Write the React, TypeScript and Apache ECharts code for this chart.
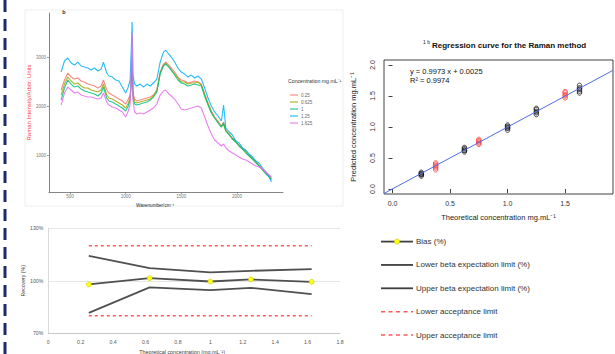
import React, { useEffect, useRef } from "react";
import * as echarts from "echarts";

// ---------- Raman spectra (panel b) ----------
const wavenumbers = [420,450,480,510,540,570,600,630,660,690,720,750,780,800,830,850,880,910,940,970,1000,1020,1040,1050,1058,1066,1080,1100,1130,1160,1190,1220,1250,1280,1310,1340,1360,1380,1410,1440,1470,1500,1530,1560,1590,1620,1650,1680,1710,1740,1770,1800,1830,1860,1880,1900,1930,1960,1990,2020,2050,2080,2110,2140,2170,2200,2230,2260,2290,2310];
const specNames = ["0.25", "0.625", "1", "1.25", "1.625"];
const spec025 = [2326,2530,2673,2591,2550,2571,2510,2489,2448,2428,2408,2367,2408,2530,2326,2265,2224,2183,2142,2102,2040,2122,2224,2489,2938,2285,2142,2102,2122,2142,2163,2183,2224,2326,2693,2856,2897,2856,2775,2693,2591,2530,2510,2469,2489,2510,2489,2448,2244,2061,1898,1775,1694,1592,1673,1510,1428,1347,1286,1204,1143,1082,1000,939,878,796,714,653,572,531];
const spec0625 = [2224,2448,2591,2510,2448,2469,2408,2367,2367,2326,2306,2285,2326,2448,2224,2163,2142,2102,2061,2020,1959,2040,2163,2428,2979,2224,2081,2061,2081,2102,2122,2142,2204,2306,2673,2836,2877,2816,2734,2652,2571,2489,2489,2448,2469,2469,2489,2428,2224,2040,1877,1755,1673,1571,1632,1490,1428,1326,1265,1184,1122,1061,980,918,857,776,694,633,551,510];
const spec1 = [2122,2367,2530,2448,2387,2408,2346,2306,2285,2265,2244,2204,2265,2387,2163,2102,2081,2040,2000,1959,1898,1979,2122,2530,3040,2163,2040,2020,2040,2061,2081,2122,2183,2285,2652,2816,2856,2816,2734,2632,2530,2469,2448,2408,2428,2448,2428,2408,2204,2020,1857,1755,1653,1571,1653,1490,1408,1326,1265,1184,1122,1041,980,918,837,776,694,612,551,490];
const spec125 = [2693,2918,2979,2877,2836,2897,2816,2795,2775,2734,2775,2714,2754,2897,2673,2612,2591,2530,2510,2387,2265,2367,2530,3142,3713,2632,2448,2408,2448,2387,2448,2408,2469,2550,2897,3101,3142,3081,2999,2897,2775,2693,2652,2591,2632,2571,2612,2550,2367,2163,2000,1877,1796,1694,2020,1551,1469,1408,1286,1245,1143,1102,1020,959,878,837,735,653,551,449];
const spec1625 = [2020,2265,2387,2326,2265,2285,2224,2204,2183,2183,2163,2142,2163,2265,2081,2020,1979,1959,1918,1877,1775,1877,2020,2734,3489,2122,1877,1836,1857,1836,1877,1918,1959,2040,2224,2306,2326,2265,2204,2142,2040,1938,1918,1938,1959,1979,2000,1959,1775,1592,1428,1306,1245,1184,1224,1143,1082,1041,1000,959,918,898,857,816,776,755,714,653,592,551];
const specTicksX = [500, 1000, 1500, 2000];
const specTicksY = [1000, 2000, 3000];

// ---------- Regression (1b) ----------
const calibLevels = [0.25, 0.625, 1.0, 1.25, 1.625];
const calibPred = [
  [0.21, 0.23, 0.24, 0.25, 0.27],
  [0.60, 0.62, 0.63, 0.65, 0.67],
  [0.95, 0.98, 0.99, 1.01, 1.03],
  [1.20, 1.23, 1.25, 1.28, 1.30],
  [1.55, 1.58, 1.61, 1.63, 1.67],
];
const validLevels = [0.375, 0.75, 1.5];
const validPred = [
  [0.31, 0.34, 0.36, 0.38, 0.40, 0.42],
  [0.72, 0.74, 0.76, 0.78, 0.80],
  [1.47, 1.50, 1.52, 1.55, 1.57],
];
const regSlope = 0.9973;
const regIntercept = 0.0025;
const regR2 = 0.9974;
const regTicks = [0, 0.5, 1, 1.5, 2];

// ---------- Accuracy profile ----------
const profileX = [0.25, 0.625, 1.0, 1.25, 1.625];
const biasPct = [97.9, 101.5, 99.6, 100.8, 99.4];
const lowerBetaPct = [81.7, 96.2, 94.7, 96.0, 92.4];
const upperBetaPct = [114.3, 107.3, 104.8, 105.7, 106.7];
const lowerAccPct = [80, 80, 80, 80, 80];
const upperAccPct = [120, 120, 120, 120, 120];
const profileNames = [
  "Bias (%)",
  "Lower beta expectation limit (%)",
  "Upper beta expectation limit (%)",
  "Lower acceptance limit",
  "Upper acceptance limit",
];

const RF = "Liberation Sans, Arial, sans-serif";
const specColors = ["#F8766D", "#A3A500", "#00BF7D", "#00B0F6", "#E76BF3"];

function buildOption() {
  const specData = [spec025, spec0625, spec1, spec125, spec1625];
  const series: any[] = [];

  specData.forEach((arr, i) => {
    series.push({
      name: specNames[i],
      type: "line",
      xAxisIndex: 0,
      yAxisIndex: 0,
      symbol: "none",
      data: wavenumbers.map((w, j) => [w, arr[j]]),
      lineStyle: { color: specColors[i], width: 1.1, opacity: 0.85 },
      itemStyle: { color: specColors[i] },
    });
  });

  const xMin = -0.074, xMax = 1.916;
  series.push({
    name: "fit",
    type: "line",
    xAxisIndex: 1,
    yAxisIndex: 1,
    symbol: "none",
    clip: true,
    data: [xMin, xMax].map((x) => [x, regSlope * x + regIntercept]),
    lineStyle: { color: "#4f6be6", width: 1 },
  });
  const calibPts: number[][] = [];
  calibLevels.forEach((x, i) => calibPred[i].forEach((y) => calibPts.push([x, y])));
  const validPts: number[][] = [];
  validLevels.forEach((x, i) => validPred[i].forEach((y) => validPts.push([x, y])));
  series.push({
    name: "calibration",
    type: "scatter",
    xAxisIndex: 1,
    yAxisIndex: 1,
    symbol: "circle",
    symbolSize: 4.5,
    data: calibPts,
    itemStyle: { color: "transparent", borderColor: "#111", borderWidth: 1 },
  });
  series.push({
    name: "validation",
    type: "scatter",
    xAxisIndex: 1,
    yAxisIndex: 1,
    symbol: "circle",
    symbolSize: 4.5,
    data: validPts,
    itemStyle: { color: "transparent", borderColor: "#ff3b3b", borderWidth: 1 },
  });

  const prof = [biasPct, lowerBetaPct, upperBetaPct, lowerAccPct, upperAccPct];
  prof.forEach((arr, i) => {
    const dashed = i >= 3;
    series.push({
      name: profileNames[i],
      type: "line",
      xAxisIndex: 2,
      yAxisIndex: 2,
      symbol: i === 0 ? "circle" : "none",
      symbolSize: 5,
      z: i === 0 ? 5 : 3,
      data: profileX.map((x, j) => [x, arr[j]]),
      lineStyle: dashed
        ? { color: "#ff5a5a", width: 1.5, type: [3, 3] }
        : { color: "#505050", width: 1.8 },
      itemStyle: i === 0 ? { color: "#ffff1a", borderColor: "#c9c900", borderWidth: 0.6 } : undefined,
    });
  });

  // graphics
  const graphic: any[] = [];
  graphic.push({
    type: "line",
    shape: { x1: 5, y1: 0, x2: 5, y2: 354 },
    style: { stroke: "#1c2b6b", lineWidth: 3, lineDash: [12, 7] },
  });
  graphic.push({
    type: "rect",
    shape: { x: 25, y: 10, width: 318, height: 196 },
    style: { fill: "none", stroke: "#efefef", lineWidth: 1 },
    z: -1,
  });
  graphic.push({
    type: "text",
    x: 64,
    y: 12,
    style: { text: "b", fontSize: 5.5, fontWeight: "bold", fontFamily: RF, fill: "#333", textAlign: "center", textVerticalAlign: "middle" },
  });
  graphic.push({
    type: "text",
    x: 288,
    y: 81,
    style: { text: "Concentration mg.mL⁻¹", fontSize: 5.2, fontFamily: RF, fill: "#333", textAlign: "left", textVerticalAlign: "middle" },
  });
  specNames.forEach((n, i) => {
    const y = 95 + i * 7;
    graphic.push({
      type: "line",
      shape: { x1: 290, y1: y, x2: 298, y2: y },
      style: { stroke: specColors[i], lineWidth: 1 },
    });
    graphic.push({
      type: "text",
      x: 301,
      y,
      style: { text: n, fontSize: 4.5, fontFamily: RF, fill: "#666", textAlign: "left", textVerticalAlign: "middle" },
    });
  });

  graphic.push({
    type: "text",
    x: 423,
    y: 42,
    style: { text: "1 b", fontSize: 5, fontFamily: RF, fill: "#222", textAlign: "left", textVerticalAlign: "middle" },
  });
  graphic.push({
    type: "text",
    x: 432,
    y: 45,
    style: { text: "Regression curve for the Raman method", fontSize: 8, fontWeight: "bold", fontFamily: RF, fill: "#111", textAlign: "left", textVerticalAlign: "middle" },
  });
  graphic.push({
    type: "text",
    x: 410,
    y: 71,
    style: { text: `y = ${regSlope.toFixed(4)} x + ${regIntercept.toFixed(4)}`, fontSize: 7.5, fontFamily: RF, fill: "#111", textAlign: "left", textVerticalAlign: "middle" },
  });
  graphic.push({
    type: "text",
    x: 410,
    y: 80.5,
    style: { text: `R² = ${regR2.toFixed(4)}`, fontSize: 7.5, fontFamily: RF, fill: "#111", textAlign: "left", textVerticalAlign: "middle" },
  });

  profileNames.forEach((n, i) => {
    const y = 241.6 + i * 23.35;
    const dashed = i >= 3;
    graphic.push({
      type: "line",
      shape: { x1: 381, y1: y, x2: 413, y2: y },
      style: dashed
        ? { stroke: "#ff5a5a", lineWidth: 1.5, lineDash: [4, 3.5] }
        : { stroke: "#404040", lineWidth: 1.8 },
    });
    if (i === 0) {
      graphic.push({
        type: "circle",
        shape: { cx: 397, cy: y, r: 2.6 },
        style: { fill: "#ffff1a", stroke: "#c9c900", lineWidth: 0.6 },
      });
    }
    graphic.push({
      type: "text",
      x: 416,
      y,
      style: { text: n, fontSize: 8, fontFamily: RF, fill: "#333333", textAlign: "left", textVerticalAlign: "middle" },
    });
  });

  const plain = (v: number) => String(v);

  return {
    animation: false,
    backgroundColor: "#ffffff",
    grid: [
      { left: 49, top: 13, width: 234, height: 179, outerBoundsMode: "none" },
      { left: 384, top: 60, width: 229, height: 134, show: true, borderColor: "#111", borderWidth: 0.8, outerBoundsMode: "none" },
      { left: 48.3, top: 228.3, width: 291.7, height: 105, outerBoundsMode: "none" },
    ],
    xAxis: [
      {
        gridIndex: 0, type: "value", min: 311, max: 2414,
        axisLine: { lineStyle: { color: "#666", width: 0.8 } },
        axisTick: { show: true, customValues: specTicksX, length: 2, lineStyle: { color: "#666", width: 0.6 } },
        axisLabel: { customValues: specTicksX, fontSize: 4.5, color: "#777", margin: 1.5, fontFamily: RF, formatter: plain },
        splitLine: { show: false },
        name: "Wavenumber/cm⁻¹", nameLocation: "middle", nameGap: 9.5,
        nameTextStyle: { fontSize: 4.6, color: "#222", fontFamily: RF, padding: [0, 22, 0, 0] },
      },
      {
        gridIndex: 1, type: "value", min: xMin, max: xMax,
        axisLine: { show: false },
        axisTick: { show: true, customValues: [0, 0.5, 1, 1.5], length: 4, lineStyle: { color: "#111", width: 0.8 } },
        axisLabel: { customValues: [0, 0.5, 1, 1.5], fontSize: 7, color: "#333", margin: 6, fontFamily: RF, formatter: (v: number) => v.toFixed(1) },
        splitLine: { show: false },
        name: "Theoretical concentration mg.mL⁻¹", nameLocation: "middle", nameGap: 19,
        nameTextStyle: { fontSize: 7.5, color: "#222", fontFamily: RF },
      },
      {
        gridIndex: 2, type: "value", min: 0, max: 1.8, interval: 0.2,
        axisLine: { lineStyle: { color: "#c8c8c8", width: 1 } },
        axisTick: { show: false },
        axisLabel: { fontSize: 5.2, color: "#595959", margin: 6, fontFamily: RF, formatter: (v: number) => String(Math.round(v * 10) / 10) },
        splitLine: { show: false },
        name: "Theoretical concentration (mg.mL⁻¹)", nameLocation: "middle", nameGap: 16.5,
        nameTextStyle: { fontSize: 5.4, color: "#404040", fontFamily: RF, padding: [0, 24, 0, 0] },
      },
    ],
    yAxis: [
      {
        gridIndex: 0, type: "value", min: 245, max: 3898,
        axisLine: { show: true, lineStyle: { color: "#666", width: 0.8 } },
        axisTick: { show: true, customValues: specTicksY, length: 2, lineStyle: { color: "#666", width: 0.6 } },
        axisLabel: { customValues: specTicksY, fontSize: 4.5, color: "#777", margin: 3, fontFamily: RF, formatter: plain },
        splitLine: { show: false },
        name: "Raman Intensity/Arbitr. Units", nameLocation: "middle", nameGap: 14.5, nameRotate: 90,
        nameTextStyle: { fontSize: 6, color: "#ff4040", fontFamily: RF },
      },
      {
        gridIndex: 1, type: "value", min: -0.08, max: 2.08,
        axisLine: { show: false },
        axisTick: { show: true, customValues: regTicks, length: 4, lineStyle: { color: "#111", width: 0.8 } },
        axisLabel: { customValues: regTicks, rotate: 90, fontSize: 7, color: "#333", margin: 8, fontFamily: RF, formatter: (v: number) => v.toFixed(1) },
        splitLine: { show: false },
        name: "Predicted concentration mg.mL⁻¹", nameLocation: "middle", nameGap: 27, nameRotate: 90,
        nameTextStyle: { fontSize: 7.5, color: "#222", fontFamily: RF },
      },
      {
        gridIndex: 2, type: "value", min: 70, max: 130, interval: 30,
        axisLine: { show: true, lineStyle: { color: "#d9d9d9", width: 1 } },
        axisTick: { show: false },
        axisLabel: { fontSize: 5.2, color: "#595959", margin: 5, fontFamily: RF, formatter: "{value}%" },
        splitLine: { show: true, lineStyle: { color: "#e6e6e6", width: 1 } },
        name: "Recovery (%)", nameLocation: "middle", nameGap: 22.5, nameRotate: 90,
        nameTextStyle: { fontSize: 5.2, color: "#404040", fontFamily: RF },
      },
    ],
    series,
    graphic,
  };
}

export default function App() {
  const ref = useRef<HTMLDivElement>(null);
  useEffect(() => {
    if (!ref.current) return;
    const chart = echarts.init(ref.current, null, { renderer: "svg" });
    chart.setOption(buildOption() as any);
    return () => chart.dispose();
  }, []);
  return (
    <div
      ref={ref}
      style={{ position: "fixed", left: 0, top: 0, width: 615, height: 354, background: "#fff" }}
    />
  );
}
